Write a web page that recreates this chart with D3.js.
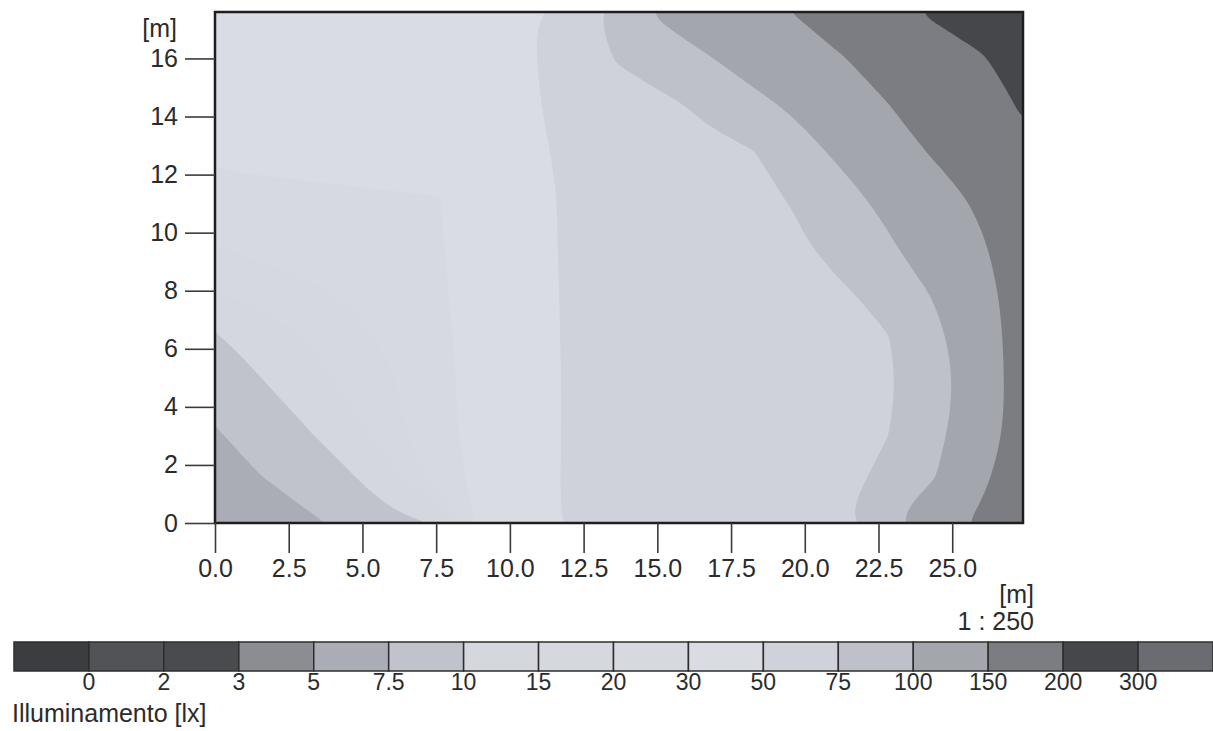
<!DOCTYPE html>
<html>
<head>
<meta charset="utf-8">
<script src="https://cdn.jsdelivr.net/npm/d3@7"></script>
<style>
  body { margin: 0; background: #ffffff; }
  svg text { font-family: "Liberation Sans", Arial, sans-serif; fill: #2b2b2b; }
</style>
</head>
<body>
<svg></svg>
<script>
// room size in metres
let roomWidth = 27.4
let roomDepth = 17.6

let xTicks = [0, 2.5, 5, 7.5, 10, 12.5, 15, 17.5, 20, 22.5, 25]
let yTicks = [0, 2, 4, 6, 8, 10, 12, 14, 16]

// illuminance classes of the legend
let luxLevels = [0, 2, 3, 5, 7.5, 10, 15, 20, 30, 50, 75, 100, 150, 200, 300]
let levelLabels = ['0', '2', '3', '5', '7.5', '10', '15', '20', '30', '50', '75', '100', '150', '200', '300']
let levelColors = ['#3b3d40', '#515357', '#494b4f', '#8b8d93', '#abadb6', '#c1c3cc', '#d5d7df', '#d6d8e0',
                   '#d7d9e1', '#dadce4', '#d0d2db', '#bfc1ca', '#a4a6ae', '#7b7d83', '#45474b', '#6a6c71']

// calculation grid (m) and values [lx], rows from the back wall (top) to the front
let gridX = [0, 1.52, 3.04, 4.57, 6.09, 7.61, 9.13, 10.66, 12.18, 13.7, 15.22, 16.74, 18.27, 19.79, 21.31, 22.83, 24.36, 25.88, 27.4]
let gridY = [17.6, 16.0, 14.4, 12.8, 11.2, 9.6, 8.0, 6.4, 4.8, 3.2, 1.6, 0]
let lux = [
  [39, 40, 41, 41, 41, 42, 44, 47.5, 61.7, 87, 105, 121, 137, 153, 170.5, 187.5, 205, 232, 255],
  [38, 39, 40, 40, 40, 41, 43, 48, 61, 77.5, 88, 98.4, 114, 131.5, 149, 165, 182, 193, 225],
  [36, 37, 38, 38, 38, 39, 42, 48, 55.5, 63, 70.6, 80, 91.7, 106.7, 128, 149.5, 168, 186, 203],
  [33, 34, 35, 36, 37, 37, 41, 47, 53.5, 58.8, 64.2, 69.5, 74.7, 89, 107, 130.5, 154, 176.5, 195],
  [25.3, 26.2, 27, 27.9, 28.8, 29.7, 36, 45.7, 52.6, 57.2, 61.8, 66.5, 71, 77, 91, 109, 132.5, 156, 180],
  [20, 21.9, 23.7, 25.6, 27.4, 29.3, 36, 45.9, 52.4, 56.5, 60.6, 64.7, 68.8, 72.9, 82, 96.5, 119, 145, 170],
  [15, 16.9, 18.7, 21.2, 24.8, 28.5, 36, 46, 52, 55.7, 59.4, 63, 66.6, 70.2, 73.8, 80, 103, 135.5, 168],
  [9.6, 12, 15, 17.9, 21.6, 27.5, 35.8, 45.8, 51.9, 55.2, 58.5, 61.8, 65, 68.3, 71.6, 74.65, 90.7, 122, 173],
  [8.5, 9.6, 12.4, 16.1, 19.7, 26.8, 35.6, 45.6, 51.8, 55, 58.3, 61.5, 64.7, 68, 71.2, 72.2, 88, 115, 175],
  [7.4, 8.55, 9.7, 13.5, 18.2, 25.8, 35.6, 45.6, 51.8, 55.1, 58.5, 61.8, 65, 68.3, 71.6, 74.7, 90.3, 120, 174],
  [6.5, 7.45, 8.5, 9.5, 13.9, 23, 35.5, 45.5, 52, 55.5, 59, 62.5, 66, 69.5, 73, 76.8, 97.5, 137, 180],
  [5.25, 6.15, 7.05, 8.0, 9.0, 10.1, 35, 45.3, 52, 56, 59.7, 63.6, 67.3, 71.2, 74, 97.5, 126.7, 156.7, 186]
]

let width = 1213
let height = 731
let plotLeft = 215
let plotRight = 1023
let plotTop = 12
let plotBottom = 523

let svg = d3.select('svg')
            .attr('width', width)
            .attr('height', height)

let xScale = d3.scaleLinear()
               .domain([0, roomWidth])
               .range([plotLeft, plotRight])

let yScale = d3.scaleLinear()
               .domain([0, roomDepth])
               .range([plotBottom, plotTop])

// contour grid coordinates -> metres (d3 puts sample i at i + 0.5)
let colScale = d3.scaleLinear()
                 .domain([0.5, gridX.length - 0.5])
                 .range([gridX[0], gridX[gridX.length - 1]])
let rowScale = d3.scaleLinear()
                 .domain([0.5, gridY.length - 0.5])
                 .range([gridY[0], gridY[gridY.length - 1]])

let drawMap = () => {
    svg.append('clipPath')
       .attr('id', 'plot-clip')
       .append('rect')
       .attr('x', plotLeft)
       .attr('y', plotTop)
       .attr('width', plotRight - plotLeft)
       .attr('height', plotBottom - plotTop)

    let contours = d3.contours()
                     .size([gridX.length, gridY.length])
                     .thresholds(luxLevels)(lux.flat())

    let ringLine = d3.line()
                     .x((p) => xScale(colScale(p[0])))
                     .y((p) => yScale(rowScale(p[1])))
                     .curve(d3.curveBasisClosed)

    svg.append('g')
       .attr('clip-path', 'url(#plot-clip)')
       .selectAll('path')
       .data(contours)
       .enter()
       .append('path')
       .attr('d', (c) => {
          return c.coordinates.map((poly) => {
            return poly.map((ring) => ringLine(ring.slice(0, -1))).join('')
          }).join('')
       })
       .attr('fill', (c) => levelColors[luxLevels.indexOf(c.value) + 1])
       .attr('stroke', 'none')

    svg.append('rect')
       .attr('x', plotLeft)
       .attr('y', plotTop)
       .attr('width', plotRight - plotLeft)
       .attr('height', plotBottom - plotTop)
       .attr('fill', 'none')
       .attr('stroke', '#1e1e1e')
       .attr('stroke-width', 2.5)
}

let drawAxis = () => {
    let xAxis = d3.axisBottom(xScale)
                  .tickValues(xTicks)
                  .tickFormat(d3.format('.1f'))
                  .tickSize(30)
                  .tickPadding(6)
    let yAxis = d3.axisLeft(yScale)
                  .tickValues(yTicks)
                  .tickSize(30)
                  .tickPadding(7)

    svg.append('g')
       .attr('transform', 'translate(0, ' + plotBottom + ')')
       .call(xAxis)
    svg.append('g')
       .attr('transform', 'translate(' + plotLeft + ', 0)')
       .call(yAxis)

    svg.selectAll('.domain').remove()
    svg.selectAll('.tick line')
       .attr('stroke', '#3a3a3a')
       .attr('stroke-width', 1.6)
    svg.selectAll('.tick text')
       .style('font-size', '25px')
       .style('font-family', '"Liberation Sans", Arial, sans-serif')
       .attr('fill', '#2b2b2b')

    svg.append('text')
       .attr('x', 177)
       .attr('y', 37)
       .attr('text-anchor', 'end')
       .style('font-size', '25px')
       .text('[m]')

    svg.append('text')
       .attr('x', 1034)
       .attr('y', 603)
       .attr('text-anchor', 'end')
       .style('font-size', '25px')
       .text('[m]')

    svg.append('text')
       .attr('x', 1034)
       .attr('y', 630)
       .attr('text-anchor', 'end')
       .style('font-size', '25px')
       .text('1 : 250')
}

let drawLegend = () => {
    let cellScale = d3.scaleBand()
                      .domain(d3.range(levelColors.length))
                      .range([14, width])

    svg.append('g')
       .selectAll('rect')
       .data(levelColors)
       .enter()
       .append('rect')
       .attr('x', (d, i) => cellScale(i))
       .attr('y', 642)
       .attr('width', cellScale.bandwidth())
       .attr('height', 29)
       .attr('fill', (d) => d)
       .attr('stroke', '#2e2e2e')
       .attr('stroke-width', 1.5)

    svg.append('g')
       .selectAll('text')
       .data(levelLabels)
       .enter()
       .append('text')
       .attr('x', (d, i) => cellScale(i) + cellScale.bandwidth())
       .attr('y', 690)
       .attr('text-anchor', 'middle')
       .style('font-size', '23px')
       .text((d) => d)

    svg.append('text')
       .attr('x', 12)
       .attr('y', 722)
       .style('font-size', '25px')
       .text('Illuminamento [lx]')
}

drawMap()
drawAxis()
drawLegend()
</script>
</body>
</html>
